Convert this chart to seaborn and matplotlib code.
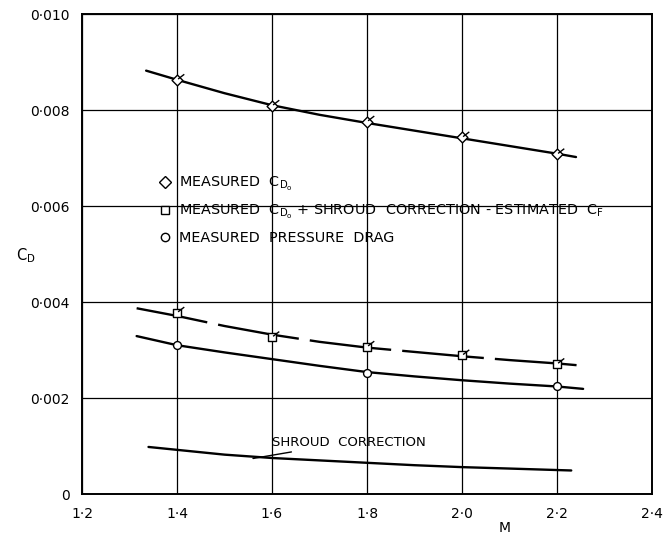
import matplotlib
matplotlib.use("Agg")
import matplotlib.pyplot as plt
import seaborn as sns
import numpy as np
from matplotlib.path import Path
from matplotlib.lines import Line2D

# ---------------- data ----------------
M_points = [1.4, 1.6, 1.8, 2.0, 2.2]
cd0_points = [0.00863, 0.00809, 0.00776, 0.00743, 0.00708]
corr_points = [0.00378, 0.00327, 0.00307, 0.00289, 0.00271]
M_press_points = [1.4, 1.8, 2.2]
press_points = [0.00310, 0.00253, 0.00224]

M_cd0_curve = [1.335, 1.4, 1.5, 1.6, 1.7, 1.8, 1.9, 2.0, 2.1, 2.2, 2.24]
cd0_curve = [0.00882, 0.00863, 0.00835, 0.00810, 0.00790, 0.00773, 0.00757, 0.00741, 0.00725, 0.00709, 0.00702]
M_corr_curve = [1.315, 1.4, 1.5, 1.6, 1.7, 1.8, 1.9, 2.0, 2.1, 2.2, 2.246]
corr_curve = [0.00387, 0.00371, 0.00350, 0.00332, 0.00317, 0.00305, 0.00296, 0.00287, 0.00279, 0.00272, 0.00268]
M_press_curve = [1.315, 1.4, 1.5, 1.6, 1.7, 1.8, 1.9, 2.0, 2.1, 2.2, 2.255]
press_curve = [0.00329, 0.00310, 0.00295, 0.00281, 0.00267, 0.00254, 0.00245, 0.00237, 0.00230, 0.00224, 0.00219]
M_shroud_curve = [1.34, 1.4, 1.5, 1.6, 1.7, 1.8, 1.9, 2.0, 2.1, 2.23]
shroud_curve = [0.00098, 0.00092, 0.00082, 0.00075, 0.00070, 0.00065, 0.00060, 0.00056, 0.00053, 0.00049]

x_ticks = [1.2, 1.4, 1.6, 1.8, 2.0, 2.2, 2.4]
x_ticklabels = ["1·2", "1·4", "1·6", "1·8", "2·0", "2·2", "2·4"]
y_ticks = [0, 0.002, 0.004, 0.006, 0.008, 0.010]
y_ticklabels = ["0", "0·002", "0·004", "0·006", "0·008", "0·010"]

legend_labels = [r"MEASURED  $\mathrm{C_{D_o}}$",
                 r"MEASURED  $\mathrm{C_{D_o}}$ + SHROUD  CORRECTION - ESTIMATED  $\mathrm{C_F}$",
                 "MEASURED  PRESSURE  DRAG"]

# ---------------- figure ----------------
sns.set_style("white")
plt.rcParams['font.family'] = ['DejaVu Sans']
plt.rcParams['text.color'] = 'black'
plt.rcParams['axes.labelcolor'] = 'black'
plt.rcParams['xtick.color'] = 'black'
plt.rcParams['ytick.color'] = 'black'
plt.rcParams['mathtext.default'] = 'regular'

fig = plt.figure(figsize=(6.69, 5.39), dpi=100)
ax = fig.add_axes([82/669, 1-494/539, (652-82)/669, (494-14)/539])

lw = 1.7
sns.lineplot(x=M_cd0_curve, y=cd0_curve, sort=False, color="black", lw=lw, ax=ax)
sns.lineplot(x=M_corr_curve, y=corr_curve, sort=False, color="black", lw=lw, ax=ax)
ax.lines[-1].set_linestyle((4.2, (34.7, 4.7)))
sns.lineplot(x=M_press_curve, y=press_curve, sort=False, color="black", lw=lw, ax=ax)
sns.lineplot(x=M_shroud_curve, y=shroud_curve, sort=False, color="black", lw=lw, ax=ax)

tick = Path([(0.15, 0.1), (1.0, 0.75)], [Path.MOVETO, Path.LINETO])

sns.scatterplot(x=M_points, y=cd0_points, marker="D", s=30, facecolor="white",
                edgecolor="black", linewidth=1.0, ax=ax, zorder=5)
sns.scatterplot(x=M_points, y=corr_points, marker="s", s=32, facecolor="white",
                edgecolor="black", linewidth=1.0, ax=ax, zorder=5)
sns.scatterplot(x=M_press_points, y=press_points, marker="o", s=32, facecolor="white",
                edgecolor="black", linewidth=1.0, ax=ax, zorder=5)
for ys in (cd0_points, corr_points):
    ax.scatter(M_points, ys, marker=tick, s=110, facecolor="none",
               edgecolor="black", linewidth=1.0, zorder=6)

ax.set_xlim(1.2, 2.4)
ax.set_ylim(0, 0.010)
ax.set_xticks(x_ticks)
ax.set_xticklabels(x_ticklabels, fontsize=10)
ax.set_yticks(y_ticks)
ax.set_yticklabels(y_ticklabels, fontsize=10)
ax.tick_params(length=0, pad=9)
ax.grid(True, color="black", lw=0.9)
ax.set_axisbelow(True)
for s in ax.spines.values():
    s.set_color("black")
    s.set_linewidth(1.4)

fig.text(16/669, 1-256/539, r"$\mathrm{C_D}$", fontsize=10.5, ha="left", va="center")
fig.text(505/669, 1-528/539, "M", fontsize=10, ha="center", va="center")

# annotation for shroud correction
ax.annotate("SHROUD  CORRECTION", xy=(1.56, 0.00074), xytext=(1.6, 0.00108),
            fontsize=9.5, ha="left", va="center",
            arrowprops=dict(arrowstyle="-", color="black", lw=1.0,
                            shrinkA=0, shrinkB=0))

handles = [
    Line2D([], [], marker="D", ls="none", markersize=6, mfc="white", mec="black"),
    Line2D([], [], marker="s", ls="none", markersize=6, mfc="white", mec="black"),
    Line2D([], [], marker="o", ls="none", markersize=6, mfc="white", mec="black"),
]
fig.legend(handles, legend_labels, loc="upper left",
           bbox_to_anchor=(158/669, 1-175/539), frameon=False, fontsize=10.4,
           handlelength=1.0, handletextpad=0.45, labelspacing=0.68,
           borderaxespad=0, borderpad=0)

fig.savefig("out.png", dpi=100)
